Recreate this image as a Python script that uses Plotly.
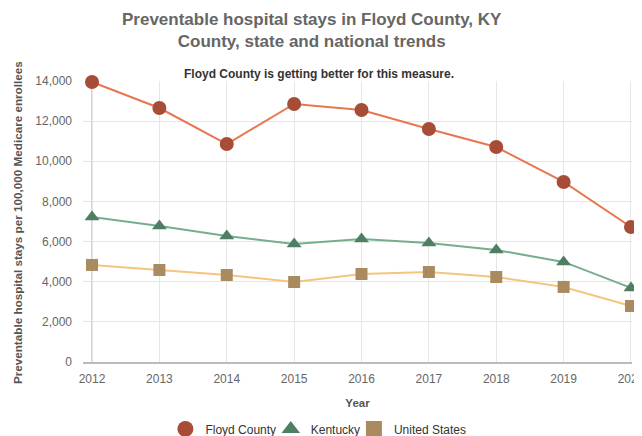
import plotly.graph_objects as go

years = [2012, 2013, 2014, 2015, 2016, 2017, 2018, 2019, 2020]
floyd = [13950, 12655, 10860, 12855, 12555, 11610, 10710, 8970, 6725]
kentucky = [7225, 6775, 6280, 5880, 6130, 5930, 5580, 4985, 3690]
united_states = [4835, 4585, 4335, 3985, 4385, 4485, 4235, 3740, 2790]

series = [
    ("Floyd County", floyd, "#E8774F", "#A64C37", "circle", 14, "legend", 0.1501),
    ("Kentucky", kentucky, "#74AE8F", "#4F7F63", "triangle-up", 13, "legend2", 0.3420),
    ("United States", united_states, "#F5C57E", "#A98B5F", "square", 12, "legend3", 0.4935),
]

fig = go.Figure()
for name, vals, lc, mc, sym, sz, lg, lx in series:
    fig.add_trace(go.Scatter(
        x=years, y=vals, mode="lines", name=name, showlegend=False,
        line=dict(color=lc, width=2), cliponaxis=False, hoverinfo="skip"))
for name, vals, lc, mc, sym, sz, lg, lx in series:
    fig.add_trace(go.Scatter(
        x=years, y=vals, mode="markers", name=name, showlegend=False,
        marker=dict(color=mc, symbol=sym, size=sz, line=dict(width=0)),
        cliponaxis=False))
for name, vals, lc, mc, sym, sz, lg, lx in series:
    fig.add_trace(go.Scatter(
        x=[None], y=[None], mode="markers", name=name, showlegend=True, legend=lg,
        marker=dict(color=mc, symbol=sym, size=16, line=dict(width=0))))

fig.add_shape(type="line", xref="x", yref="paper", x0=years[0], x1=years[0],
              y0=0, y1=1, line=dict(color="#C4C4C4", width=1.5), layer="below")

legend_style = dict(orientation="h", xanchor="left", y=-0.238, yanchor="middle",
                    font=dict(size=12, color="#333333"), bgcolor="rgba(0,0,0,0)")

fig.update_layout(
    width=634, height=428,
    margin=dict(l=75, r=10, t=73, b=74, autoexpand=False),
    paper_bgcolor="white", plot_bgcolor="white",
    font=dict(family="Liberation Sans, Arial, sans-serif", color="#666666"),
    annotations=[
        dict(text="<b>Preventable hospital stays in Floyd County, KY<br>County, state and national trends</b>",
             xref="paper", yref="paper", x=0.417, y=1.18,
             xanchor="center", yanchor="middle", showarrow=False,
             font=dict(size=17, color="#666666")),
        dict(text="<b>Floyd County is getting better for this measure.</b>",
             xref="paper", yref="paper", x=0.43, y=1.025,
             xanchor="center", yanchor="middle", showarrow=False,
             font=dict(size=12, color="#333333")),
        dict(text="<b>Preventable hospital stays per 100,000 Medicare enrollees</b>",
             xref="paper", yref="paper", x=-0.118, y=0.495, textangle=-90,
             xanchor="center", yanchor="middle", showarrow=False,
             font=dict(size=11.7, color="#555555")),
    ],
    xaxis=dict(range=[2011.866, 2020.015], tickmode="array", tickvals=years,
               ticktext=[str(y) for y in years], automargin=False,
               showgrid=True, gridcolor="#E6E6E6", gridwidth=1,
               showline=True, linecolor="#BBBBBB", linewidth=2,
               ticks="", tickfont=dict(size=12, color="#666666"),
               ticklabelstandoff=5, ticklabeloverflow="allow",
               title=dict(text="<b>Year</b>", font=dict(size=11.5, color="#555555"), standoff=14),
               zeroline=False, fixedrange=True),
    yaxis=dict(range=[0, 14000], tickvals=[0, 2000, 4000, 6000, 8000, 10000, 12000, 14000],
               tickformat=",", showgrid=True, gridcolor="#E6E6E6", gridwidth=1,
               zeroline=False, showline=False, ticks="", automargin=False,
               tickfont=dict(size=12, color="#666666"), ticklabelstandoff=10,
               fixedrange=True),
    legend=dict(x=series[0][7], **legend_style),
    legend2=dict(x=series[1][7], **legend_style),
    legend3=dict(x=series[2][7], **legend_style),
)

fig.write_html("out.html")
